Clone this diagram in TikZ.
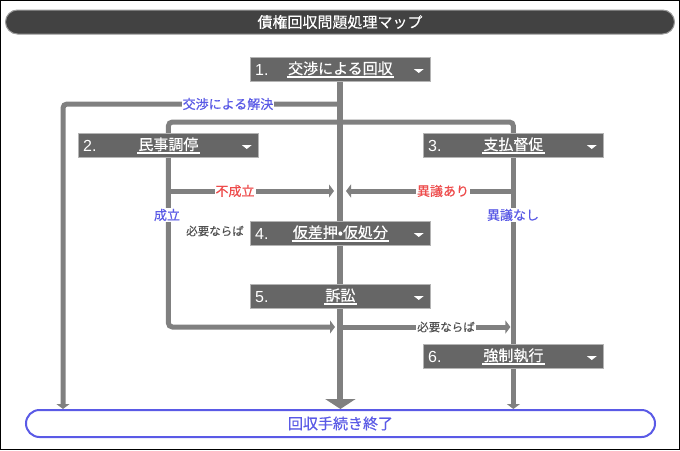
\documentclass[tikz,border=0pt]{standalone}
\usepackage{fontspec}
\setmainfont{Liberation Sans}
\newfontfamily\jp[FakeBold=0.4]{Noto Sans CJK JP}
\usetikzlibrary{arrows.meta}
\pgfdeclarelayer{background}
\pgfsetlayers{background,main}
\definecolor{linegray}{HTML}{808080}
\definecolor{boxgray}{HTML}{666666}
\definecolor{boxedge}{HTML}{B4B4B4}
\definecolor{titlegray}{HTML}{424242}
\definecolor{jblue}{HTML}{5A5AE6}
\definecolor{jred}{HTML}{EE4C4C}
\definecolor{lblgray}{HTML}{505050}
\tikzset{
  flow/.style={draw=linegray, line width=5pt},
  mainflow/.style={draw=linegray, line width=6pt},
  tip/.style={-{Triangle[length=5pt,width=13pt]}},
  bigtip/.style={-{Triangle[length=10pt,width=30pt]}},
  stepbox/.style={draw=boxedge, fill=boxgray, line width=0.8pt, inner sep=0pt, minimum height=24pt},
  numtxt/.style={text=white, inner sep=0pt, font=\fontsize{16pt}{16pt}\selectfont},
  jtxt/.style={text=white, inner sep=0pt, font=\jp\fontsize{15pt}{15pt}\selectfont},
  lbl/.style={fill=white, inner sep=1pt, font=\jp\fontsize{13pt}{13pt}\selectfont},
  smalllbl/.style={fill=white, inner sep=1pt, text=lblgray, font=\jp\fontsize{11.5pt}{11.5pt}\selectfont},
  titlebar/.style={fill=titlegray, draw=gray!80, line width=1pt, rounded corners=12pt, minimum width=669pt, minimum height=24pt, inner sep=0pt, text=white, font=\jp\fontsize{15pt}{15pt}\selectfont},
  endbox/.style={draw=jblue, fill=white, line width=2pt, rounded corners=13.5pt, minimum width=629pt, minimum height=27pt, inner sep=0pt, text=jblue, font=\jp\fontsize{15pt}{15pt}\selectfont}
}
\newcommand\flowbox[6]{%
  \node[stepbox, anchor=north west, minimum width=#4pt] (#1) at (#2,#3) {};
  \node[numtxt, anchor=base west] (#1num) at ([xshift=5pt,yshift=-18pt]#1.north west) {#5};
  \node[jtxt, anchor=base] (#1txt) at ([yshift=-17pt]#1.north) {#6};
  \draw[white, line width=1.3pt] ([xshift=-1pt,yshift=-3pt]#1txt.base west) -- ([xshift=1pt,yshift=-3pt]#1txt.base east);
  \fill[white] ([xshift=-17pt,yshift=-12pt]#1.north east) -- ([xshift=-7pt,yshift=-12pt]#1.north east) -- ([xshift=-12pt,yshift=-16pt]#1.north east) -- cycle;
}
\begin{document}
\begin{tikzpicture}[x=1pt,y=-1pt]
\useasboundingbox (0,0) rectangle (680,450);
\draw[black, line width=1.2pt] (0.6,0.6) rectangle (679.4,449.4);
\node[titlebar] (title) at (340,22) {債権回収問題処理マップ};

\flowbox{n1}{250}{57}{180}{1.}{交渉による回収}
\flowbox{n2}{78}{133}{180}{2.}{民事調停}
\flowbox{n3}{423}{133}{180}{3.}{支払督促}
\flowbox{n4}{250}{221}{180}{4.}{仮差押•仮処分}
\flowbox{n5}{250}{284}{180}{5.}{訴訟}
\flowbox{n6}{423}{344}{180}{6.}{強制執行}
\node[endbox, anchor=north west] (end) at (25,409) {回収手続き終了};

\coordinate (j1) at (340,104);
\coordinate (lft) at (63,104);
\coordinate (j2) at (340,122);
\coordinate (j3) at (340,191);
\coordinate (j5) at (340,327);
\coordinate (rt) at (n6.north |- j5);

\begin{pgfonlayer}{background}
\draw[mainflow, bigtip] (n1.south) -- (n1.south |- end.north);
\draw[flow, tip, rounded corners=4pt] (j1) -- (lft) -- (lft |- end.north);
\draw[flow, rounded corners=4pt] (n2.north) -- (n2.north |- j2) -- (n3.north |- j2) -- (n3.north);
\draw[flow, tip, rounded corners=4pt] (n2.south) -- (n2.south |- j5) -- ([xshift=-5pt]j5);
\draw[flow, tip] (n2.south |- j3) -- ([xshift=-6pt]j3);
\draw[flow, tip] (n3.south |- j3) -- ([xshift=6pt]j3);
\draw[flow] (n3.south) -- (n6.north);
\draw[flow, tip] ([xshift=3pt]j5) -- ([xshift=-3pt]rt);
\draw[flow, tip] (n6.south) -- (n6.south |- end.north);
\end{pgfonlayer}

\node[lbl, text=jblue] (lb1) at (228,104) {交渉による解決};
\node[lbl, text=jred] (lb2) at (235,191) {不成立};
\node[lbl, text=jred] (lb3) at (443,191) {異議あり};
\node[lbl, text=jblue] (lb4) at (167,215) {成立};
\node[lbl, text=jblue] (lb5) at (513,215) {異議なし};
\node[smalllbl] (lb6) at (215,231) {必要ならば};
\node[smalllbl] (lb7) at (446,327) {必要ならば};
\end{tikzpicture}
\end{document}
